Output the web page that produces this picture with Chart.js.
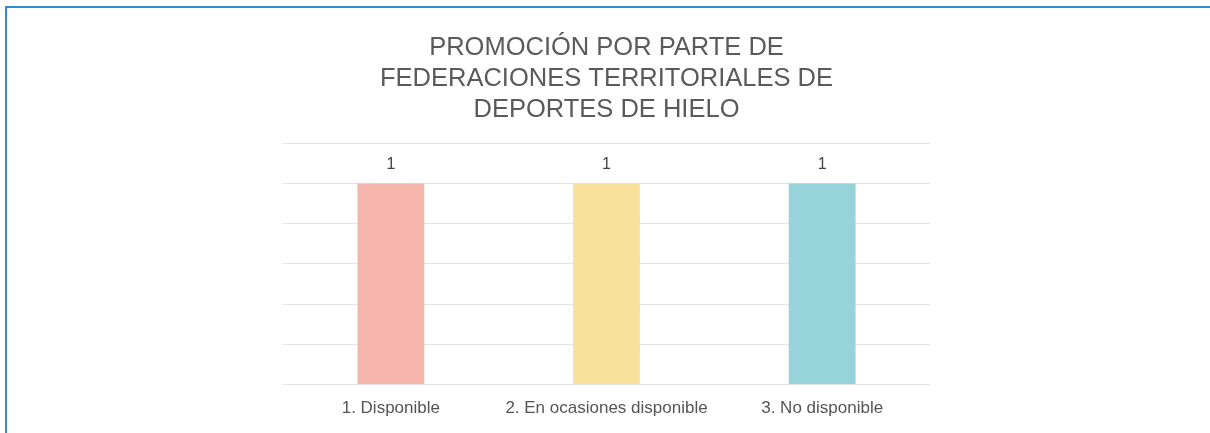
<!DOCTYPE html>
<html>
<head>
<meta charset="utf-8">
<script src="https://cdn.jsdelivr.net/npm/chart.js@4.4.1/dist/chart.umd.min.js"></script>
<style>
  html, body { margin: 0; padding: 0; background: #ffffff; }
  #wrap { position: absolute; left: 0; top: 0; width: 1210px; height: 433px; }
  #frame { position: absolute; left: 5px; top: 6px; width: 1205px; height: 427px;
           border-top: 2px solid #2f8dcf; border-left: 2px solid #2f8dcf; box-sizing: border-box; }
  canvas { position: absolute; left: 0; top: 0; }
</style>
</head>
<body>
<div id="wrap">
  <div id="frame"></div>
  <canvas id="c" width="1210" height="433"></canvas>
</div>
<script>
const titleLines = ["PROMOCIÓN POR PARTE DE", "FEDERACIONES TERRITORIALES DE", "DEPORTES DE HIELO"];
const categories = ["1. Disponible", "2. En ocasiones disponible", "3. No disponible"];
const values = [1, 1, 1];
const barColors = ["#f5b5ad", "#f7e19b", "#97d3da"];
const yMax = 1.2;
const yStep = 0.2;

const valueLabels = {
  id: 'valueLabels',
  afterDatasetsDraw(chart) {
    const ctx = chart.ctx;
    const meta = chart.getDatasetMeta(0);
    ctx.save();
    ctx.font = '16px "Liberation Sans", Arial, sans-serif';
    ctx.fillStyle = '#444444';
    ctx.textAlign = 'center';
    ctx.textBaseline = 'bottom';
    meta.data.forEach((bar, i) => {
      ctx.fillText(String(chart.data.datasets[0].data[i]), bar.x, bar.y - 11);
    });
    ctx.restore();
  }
};

new Chart(document.getElementById('c'), {
  type: 'bar',
  data: {
    labels: categories,
    datasets: [{
      data: values,
      backgroundColor: barColors,
      borderWidth: 0,
      categoryPercentage: 1,
      barPercentage: 0.31
    }]
  },
  options: {
    responsive: false,
    animation: false,
    layout: { padding: { left: 283, right: 280, top: 0, bottom: 0 } },
    plugins: {
      legend: { display: false },
      tooltip: { enabled: false },
      title: {
        display: true,
        text: titleLines,
        color: '#5a5a5a',
        font: { family: '"Liberation Sans", Arial, sans-serif', size: 25.5, weight: 'normal', lineHeight: 1.22 },
        padding: { top: 32, bottom: 18 }
      }
    },
    scales: {
      x: {
        grid: { display: false, drawTicks: false },
        border: { display: false },
        ticks: {
          color: '#555555',
          padding: 14,
          font: { family: '"Liberation Sans", Arial, sans-serif', size: 17 }
        }
      },
      y: {
        min: 0,
        max: yMax,
        ticks: { display: false, stepSize: yStep },
        grid: { color: '#e3e3e3', drawTicks: false, lineWidth: 1 },
        border: { display: false }
      }
    }
  },
  plugins: [valueLabels]
});
</script>
</body>
</html>
